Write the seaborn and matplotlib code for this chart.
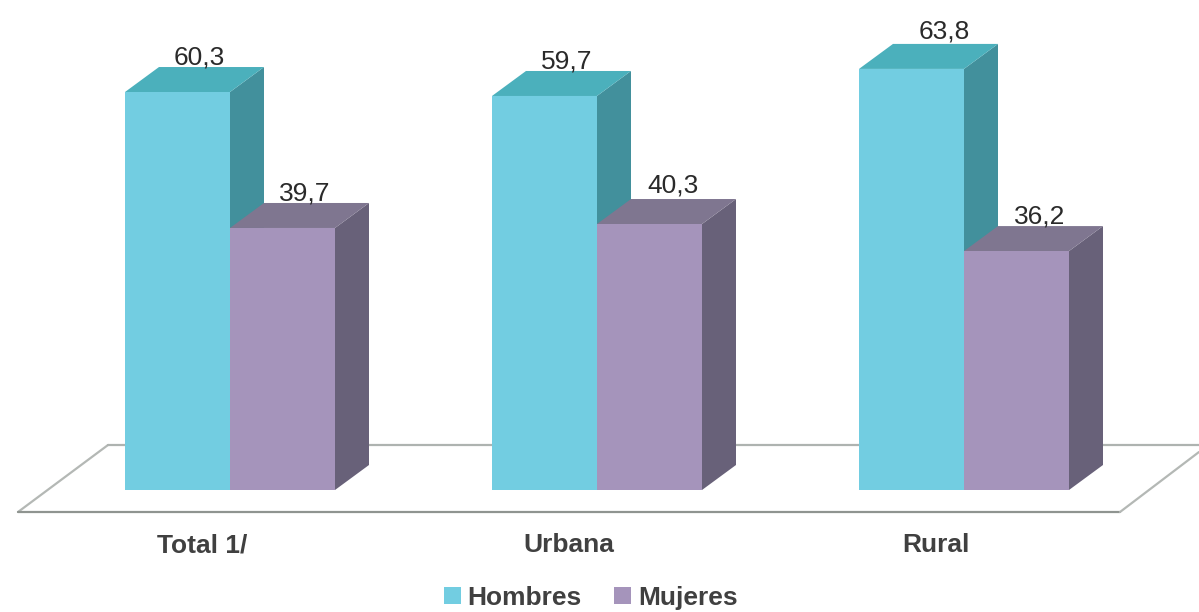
import matplotlib
matplotlib.use("Agg")
import matplotlib.pyplot as plt
from matplotlib.patches import Polygon
from matplotlib.transforms import ScaledTranslation
import pandas as pd
import seaborn as sb

categories = ["Total 1/", "Urbana", "Rural"]
hombres = [60.3, 59.7, 63.8]
mujeres = [39.7, 40.3, 36.2]
series_names = ["Hombres", "Mujeres"]

front_colors = ["#72CDE1", "#A594BB"]
top_colors = ["#4BB0BC", "#7F7690"]
side_colors = ["#42909C", "#686179"]

# the labels were hand placed in the original, small shifts in points
label_shift = {60.3: (0, 0), 59.7: (0, 0), 63.8: (8, 2), 39.7: (0, 0), 40.3: (1, 3), 36.2: (1, 0)}

W, H = 1199, 612
PX_PER_UNIT = 6.6
PX_PER_CAT = 367
DEPTH_X = 34 / PX_PER_CAT
DEPTH_Y = 25 / PX_PER_UNIT

sb.set_theme(style="white")
plt.rcParams["font.family"] = ["Liberation Sans", "DejaVu Sans"]

df = pd.DataFrame({
    "zona": categories * 2,
    "valor": hombres + mujeres,
    "sexo": [series_names[0]] * 3 + [series_names[1]] * 3,
})

fig = plt.figure(figsize=(W / 100, H / 100), dpi=100)
ax = fig.add_axes([0, (H - 490) / H, 1, 490 / H])

sb.barplot(data=df, x="zona", y="valor", hue="sexo", palette=front_colors,
           saturation=1, width=210 / PX_PER_CAT, gap=0, linewidth=0, ax=ax)

ax.set_xlim(-230 / PX_PER_CAT, (W - 230) / PX_PER_CAT)
ax.set_ylim(0, 490 / PX_PER_UNIT)

# fake 3d faces, built from the seaborn bars
for i, cont in enumerate(ax.containers):
    for bar, val in zip(cont.patches, cont.datavalues):
        x0, x1 = bar.get_x(), bar.get_x() + bar.get_width()
        h = bar.get_height()
        z = 2 + i
        bar.set_zorder(z + 0.2)
        ax.add_patch(Polygon([(x1, 0), (x1 + DEPTH_X, DEPTH_Y), (x1 + DEPTH_X, h + DEPTH_Y), (x1, h)],
                             closed=True, fc=side_colors[i], ec="none", zorder=z))
        ax.add_patch(Polygon([(x0, h), (x0 + DEPTH_X, h + DEPTH_Y), (x1 + DEPTH_X, h + DEPTH_Y), (x1, h)],
                             closed=True, fc=top_colors[i], ec="none", zorder=z + 0.1))
        dx, dy = label_shift[round(float(val), 1)]
        ax.annotate(f"{val:.1f}".replace(".", ","), ((x0 + x1) / 2 + DEPTH_X * 0.65, h + DEPTH_Y),
                    xytext=(dx, -2 + dy), textcoords="offset points", ha="center", va="bottom",
                    fontsize=19, color="#2A2A2A", zorder=6)

# floor of the plot, in figure pixels
def floor_line(xs, ys, color):
    fig.add_artist(plt.Line2D([x / W for x in xs], [1 - y / H for y in ys],
                              color=color, lw=1.6, zorder=0))

floor_line([18, 108], [512, 445], "#B4B8B5")
floor_line([108, W], [445, 445], "#AEB3B0")
floor_line([18, 1120], [512, 512], "#8F9490")
floor_line([1120, W], [512, 452], "#B4B8B5")
ax.patch.set_alpha(0)
fig.patch.set_facecolor("white")

sb.despine(ax=ax, left=True, bottom=True)
ax.set_xlabel("")
ax.set_ylabel("")
ax.set_yticks([])
ax.tick_params(axis="x", length=0, pad=31)
offset = ScaledTranslation(-28 / 100, 0, fig.dpi_scale_trans)
for lab in ax.get_xticklabels():
    lab.set_fontsize(19)
    lab.set_fontweight("bold")
    lab.set_color("#404040")
    lab.set_transform(lab.get_transform() + offset)

sb.move_legend(ax, "center", bbox_to_anchor=(0.4925, -0.22), ncol=2, frameon=False, title=None,
               fontsize=19, handlelength=0.65, handleheight=0.65, handletextpad=0.24,
               columnspacing=1.25)
for t in ax.get_legend().get_texts():
    t.set_fontweight("bold")
    t.set_color("#404040")

fig.savefig("out.png", dpi=100)
